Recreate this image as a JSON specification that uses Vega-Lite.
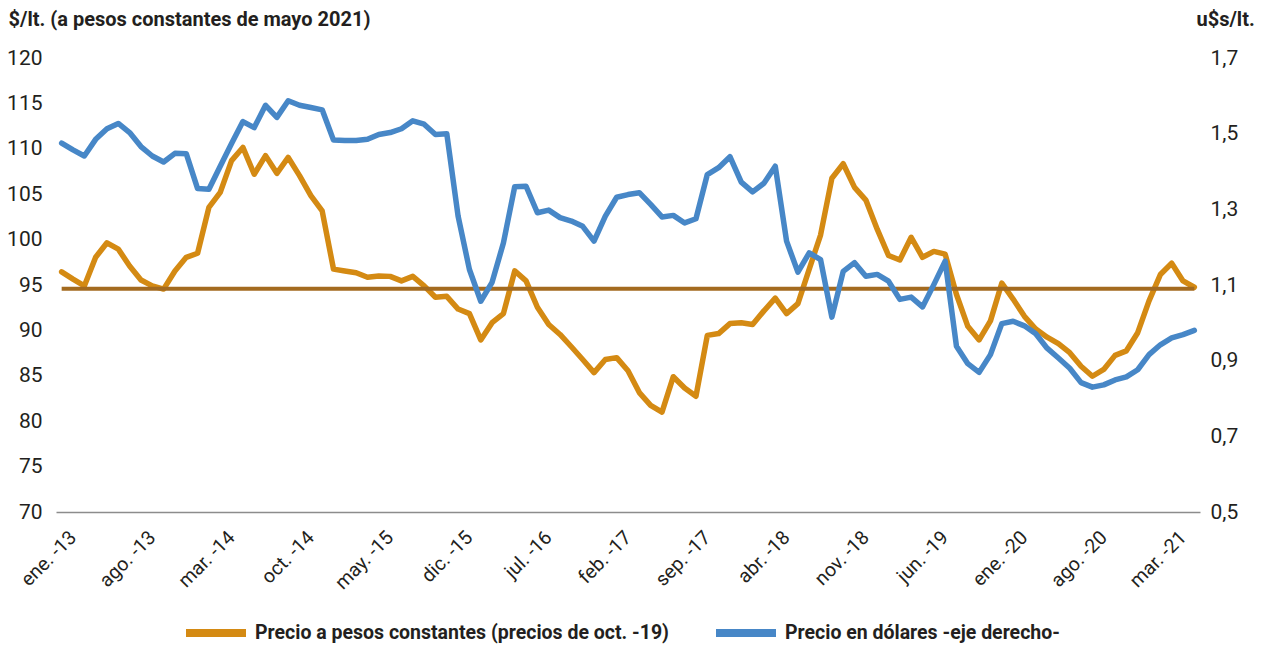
{
  "$schema": "https://vega.github.io/schema/vega-lite/v6.json",
  "autosize": {"type": "none"},
  "padding": {"left": 56, "top": 58, "right": 68, "bottom": 134},
  "width": 1144,
  "height": 454,
  "background": "white",
  "config": {
    "view": {"stroke": null},
    "font": "Roboto",
    "axis": {"labelFont": "Roboto", "titleFont": "Roboto", "grid": false, "ticks": false, "labelColor": "#231f20", "titleColor": "#231f20"},
    "legend": {"labelFont": "Roboto"}
  },
  "data": {"values": [
    {"mes": "ene. -13", "pesos": 96.45, "dolares": 1.475, "promedio": 94.6},
    {"mes": "feb. -13", "pesos": 95.65, "dolares": 1.457, "promedio": 94.6},
    {"mes": "mar. -13", "pesos": 94.9, "dolares": 1.441, "promedio": 94.6},
    {"mes": "abr. -13", "pesos": 98.05, "dolares": 1.485, "promedio": 94.6},
    {"mes": "may. -13", "pesos": 99.65, "dolares": 1.513, "promedio": 94.6},
    {"mes": "jun. -13", "pesos": 98.95, "dolares": 1.527, "promedio": 94.6},
    {"mes": "jul. -13", "pesos": 97.1, "dolares": 1.503, "promedio": 94.6},
    {"mes": "ago. -13", "pesos": 95.55, "dolares": 1.466, "promedio": 94.6},
    {"mes": "sep. -13", "pesos": 94.9, "dolares": 1.441, "promedio": 94.6},
    {"mes": "oct. -13", "pesos": 94.55, "dolares": 1.425, "promedio": 94.6},
    {"mes": "nov. -13", "pesos": 96.55, "dolares": 1.448, "promedio": 94.6},
    {"mes": "dic. -13", "pesos": 98.05, "dolares": 1.447, "promedio": 94.6},
    {"mes": "ene. -14", "pesos": 98.5, "dolares": 1.355, "promedio": 94.6},
    {"mes": "feb. -14", "pesos": 103.55, "dolares": 1.353, "promedio": 94.6},
    {"mes": "mar. -14", "pesos": 105.2, "dolares": 1.414, "promedio": 94.6},
    {"mes": "abr. -14", "pesos": 108.7, "dolares": 1.474, "promedio": 94.6},
    {"mes": "may. -14", "pesos": 110.15, "dolares": 1.532, "promedio": 94.6},
    {"mes": "jun. -14", "pesos": 107.2, "dolares": 1.516, "promedio": 94.6},
    {"mes": "jul. -14", "pesos": 109.25, "dolares": 1.575, "promedio": 94.6},
    {"mes": "ago. -14", "pesos": 107.3, "dolares": 1.543, "promedio": 94.6},
    {"mes": "sep. -14", "pesos": 109.05, "dolares": 1.587, "promedio": 94.6},
    {"mes": "oct. -14", "pesos": 107.05, "dolares": 1.575, "promedio": 94.6},
    {"mes": "nov. -14", "pesos": 104.85, "dolares": 1.569, "promedio": 94.6},
    {"mes": "dic. -14", "pesos": 103.15, "dolares": 1.563, "promedio": 94.6},
    {"mes": "ene. -15", "pesos": 96.75, "dolares": 1.483, "promedio": 94.6},
    {"mes": "feb. -15", "pesos": 96.55, "dolares": 1.482, "promedio": 94.6},
    {"mes": "mar. -15", "pesos": 96.35, "dolares": 1.482, "promedio": 94.6},
    {"mes": "abr. -15", "pesos": 95.85, "dolares": 1.485, "promedio": 94.6},
    {"mes": "may. -15", "pesos": 96.0, "dolares": 1.498, "promedio": 94.6},
    {"mes": "jun. -15", "pesos": 95.95, "dolares": 1.503, "promedio": 94.6},
    {"mes": "jul. -15", "pesos": 95.45, "dolares": 1.513, "promedio": 94.6},
    {"mes": "ago. -15", "pesos": 95.95, "dolares": 1.534, "promedio": 94.6},
    {"mes": "sep. -15", "pesos": 94.9, "dolares": 1.525, "promedio": 94.6},
    {"mes": "oct. -15", "pesos": 93.65, "dolares": 1.498, "promedio": 94.6},
    {"mes": "nov. -15", "pesos": 93.75, "dolares": 1.5, "promedio": 94.6},
    {"mes": "dic. -15", "pesos": 92.35, "dolares": 1.282, "promedio": 94.6},
    {"mes": "ene. -16", "pesos": 91.85, "dolares": 1.141, "promedio": 94.6},
    {"mes": "feb. -16", "pesos": 88.95, "dolares": 1.057, "promedio": 94.6},
    {"mes": "mar. -16", "pesos": 90.85, "dolares": 1.107, "promedio": 94.6},
    {"mes": "abr. -16", "pesos": 91.85, "dolares": 1.211, "promedio": 94.6},
    {"mes": "may. -16", "pesos": 96.55, "dolares": 1.36, "promedio": 94.6},
    {"mes": "jun. -16", "pesos": 95.45, "dolares": 1.361, "promedio": 94.6},
    {"mes": "jul. -16", "pesos": 92.55, "dolares": 1.291, "promedio": 94.6},
    {"mes": "ago. -16", "pesos": 90.65, "dolares": 1.298, "promedio": 94.6},
    {"mes": "sep. -16", "pesos": 89.55, "dolares": 1.278, "promedio": 94.6},
    {"mes": "oct. -16", "pesos": 88.2, "dolares": 1.269, "promedio": 94.6},
    {"mes": "nov. -16", "pesos": 86.8, "dolares": 1.255, "promedio": 94.6},
    {"mes": "dic. -16", "pesos": 85.35, "dolares": 1.216, "promedio": 94.6},
    {"mes": "ene. -17", "pesos": 86.8, "dolares": 1.282, "promedio": 94.6},
    {"mes": "feb. -17", "pesos": 87.0, "dolares": 1.332, "promedio": 94.6},
    {"mes": "mar. -17", "pesos": 85.55, "dolares": 1.339, "promedio": 94.6},
    {"mes": "abr. -17", "pesos": 83.15, "dolares": 1.344, "promedio": 94.6},
    {"mes": "may. -17", "pesos": 81.75, "dolares": 1.313, "promedio": 94.6},
    {"mes": "jun. -17", "pesos": 81.0, "dolares": 1.28, "promedio": 94.6},
    {"mes": "jul. -17", "pesos": 84.9, "dolares": 1.284, "promedio": 94.6},
    {"mes": "ago. -17", "pesos": 83.65, "dolares": 1.264, "promedio": 94.6},
    {"mes": "sep. -17", "pesos": 82.75, "dolares": 1.275, "promedio": 94.6},
    {"mes": "oct. -17", "pesos": 89.45, "dolares": 1.392, "promedio": 94.6},
    {"mes": "nov. -17", "pesos": 89.65, "dolares": 1.41, "promedio": 94.6},
    {"mes": "dic. -17", "pesos": 90.75, "dolares": 1.439, "promedio": 94.6},
    {"mes": "ene. -18", "pesos": 90.85, "dolares": 1.372, "promedio": 94.6},
    {"mes": "feb. -18", "pesos": 90.65, "dolares": 1.346, "promedio": 94.6},
    {"mes": "mar. -18", "pesos": 92.15, "dolares": 1.369, "promedio": 94.6},
    {"mes": "abr. -18", "pesos": 93.55, "dolares": 1.414, "promedio": 94.6},
    {"mes": "may. -18", "pesos": 91.85, "dolares": 1.216, "promedio": 94.6},
    {"mes": "jun. -18", "pesos": 92.95, "dolares": 1.134, "promedio": 94.6},
    {"mes": "jul. -18", "pesos": 96.75, "dolares": 1.185, "promedio": 94.6},
    {"mes": "ago. -18", "pesos": 100.5, "dolares": 1.167, "promedio": 94.6},
    {"mes": "sep. -18", "pesos": 106.75, "dolares": 1.015, "promedio": 94.6},
    {"mes": "oct. -18", "pesos": 108.35, "dolares": 1.136, "promedio": 94.6},
    {"mes": "nov. -18", "pesos": 105.75, "dolares": 1.159, "promedio": 94.6},
    {"mes": "dic. -18", "pesos": 104.35, "dolares": 1.123, "promedio": 94.6},
    {"mes": "ene. -19", "pesos": 101.15, "dolares": 1.128, "promedio": 94.6},
    {"mes": "feb. -19", "pesos": 98.25, "dolares": 1.11, "promedio": 94.6},
    {"mes": "mar. -19", "pesos": 97.75, "dolares": 1.062, "promedio": 94.6},
    {"mes": "abr. -19", "pesos": 100.25, "dolares": 1.068, "promedio": 94.6},
    {"mes": "may. -19", "pesos": 98.05, "dolares": 1.042, "promedio": 94.6},
    {"mes": "jun. -19", "pesos": 98.7, "dolares": 1.101, "promedio": 94.6},
    {"mes": "jul. -19", "pesos": 98.4, "dolares": 1.163, "promedio": 94.6},
    {"mes": "ago. -19", "pesos": 93.95, "dolares": 0.938, "promedio": 94.6},
    {"mes": "sep. -19", "pesos": 90.45, "dolares": 0.892, "promedio": 94.6},
    {"mes": "oct. -19", "pesos": 88.95, "dolares": 0.869, "promedio": 94.6},
    {"mes": "nov. -19", "pesos": 91.05, "dolares": 0.916, "promedio": 94.6},
    {"mes": "dic. -19", "pesos": 95.2, "dolares": 0.998, "promedio": 94.6},
    {"mes": "ene. -20", "pesos": 93.45, "dolares": 1.004, "promedio": 94.6},
    {"mes": "feb. -20", "pesos": 91.55, "dolares": 0.992, "promedio": 94.6},
    {"mes": "mar. -20", "pesos": 90.15, "dolares": 0.971, "promedio": 94.6},
    {"mes": "abr. -20", "pesos": 89.25, "dolares": 0.933, "promedio": 94.6},
    {"mes": "may. -20", "pesos": 88.55, "dolares": 0.907, "promedio": 94.6},
    {"mes": "jun. -20", "pesos": 87.55, "dolares": 0.88, "promedio": 94.6},
    {"mes": "jul. -20", "pesos": 86.05, "dolares": 0.842, "promedio": 94.6},
    {"mes": "ago. -20", "pesos": 84.95, "dolares": 0.83, "promedio": 94.6},
    {"mes": "sep. -20", "pesos": 85.7, "dolares": 0.836, "promedio": 94.6},
    {"mes": "oct. -20", "pesos": 87.25, "dolares": 0.849, "promedio": 94.6},
    {"mes": "nov. -20", "pesos": 87.75, "dolares": 0.857, "promedio": 94.6},
    {"mes": "dic. -20", "pesos": 89.75, "dolares": 0.876, "promedio": 94.6},
    {"mes": "ene. -21", "pesos": 93.25, "dolares": 0.916, "promedio": 94.6},
    {"mes": "feb. -21", "pesos": 96.15, "dolares": 0.942, "promedio": 94.6},
    {"mes": "mar. -21", "pesos": 97.4, "dolares": 0.96, "promedio": 94.6},
    {"mes": "abr. -21", "pesos": 95.45, "dolares": 0.969, "promedio": 94.6},
    {"mes": "may. -21", "pesos": 94.75, "dolares": 0.98, "promedio": 94.6}
  ]},
  "encoding": {
    "x": {
      "field": "mes", "type": "ordinal", "sort": null,
      "scale": {"type": "point", "padding": 0.5},
      "axis": {
        "title": null,
        "values": ["ene. -13","ago. -13","mar. -14","oct. -14","may. -15","dic. -15","jul. -16","feb. -17","sep. -17","abr. -18","nov. -18","jun. -19","ene. -20","ago. -20","mar. -21"],
        "labelAngle": -45, "labelAlign": "right", "labelBaseline": "middle",
        "labelPadding": 22, "labelOffset": 11, "labelFontSize": 19.5,
        "domain": true, "domainColor": "#8c8c8c", "domainWidth": 1.5
      }
    }
  },
  "layer": [
    {
      "mark": {"type": "line", "strokeWidth": 5.5, "strokeCap": "round", "strokeJoin": "round"},
      "encoding": {
        "y": {"field": "pesos", "type": "quantitative",
          "scale": {"domain": [70, 120], "nice": false, "zero": false},
          "axis": {"orient": "left", "values": [70,75,80,85,90,95,100,105,110,115,120], "domain": false,
            "labelFontSize": 21, "labelPadding": 14,
            "title": "$/lt. (a pesos constantes de mayo 2021)", "titleAngle": 0, "titleAlign": "left", "titleBaseline": "alphabetic",
            "titleX": -48, "titleY": -33, "titleFontSize": 20, "titleFontWeight": "bold"}},
        "color": {"datum": "Precio a pesos constantes (precios de oct. -19)", "type": "nominal",
          "scale": {"domain": ["Precio a pesos constantes (precios de oct. -19)", "Precio en dólares -eje derecho-"], "range": ["#d48a13", "#4787c7"]},
          "legend": {"title": null, "orient": "none", "direction": "horizontal", "legendX": 144, "legendY": 559, "padding": 0,
            "symbolType": "M-2.5,0H2.5", "symbolSize": 576, "symbolStrokeWidth": 8,
            "labelFontSize": 19.5, "labelFontWeight": "bold", "labelColor": "#231f20", "labelOffset": 23, "columnPadding": 31, "labelLimit": 600}}
      }
    },
    {
      "mark": {"type": "line", "strokeWidth": 4, "color": "#a36a1f", "strokeCap": "butt"},
      "encoding": {
        "y": {"field": "promedio", "type": "quantitative", "scale": {"domain": [70, 120], "nice": false, "zero": false}, "axis": null}
      }
    },
    {
      "mark": {"type": "line", "strokeWidth": 5.5, "strokeCap": "round", "strokeJoin": "round"},
      "encoding": {
        "y": {"field": "dolares", "type": "quantitative",
          "scale": {"domain": [0.5, 1.7], "nice": false, "zero": false},
          "axis": {"orient": "right", "values": [0.5,0.7,0.9,1.1,1.3,1.5,1.7], "domain": false,
            "labelExpr": "replace(format(datum.value, '.1f'), '.', ',')",
            "labelFontSize": 21, "labelPadding": 10,
            "title": "u$s/lt.", "titleAngle": 0, "titleAlign": "left", "titleBaseline": "alphabetic",
            "titleX": -4, "titleY": -33, "titleFontSize": 20, "titleFontWeight": "bold"}},
        "color": {"datum": "Precio en dólares -eje derecho-", "type": "nominal"}
      }
    }
  ],
  "resolve": {"scale": {"y": "independent"}}
}
